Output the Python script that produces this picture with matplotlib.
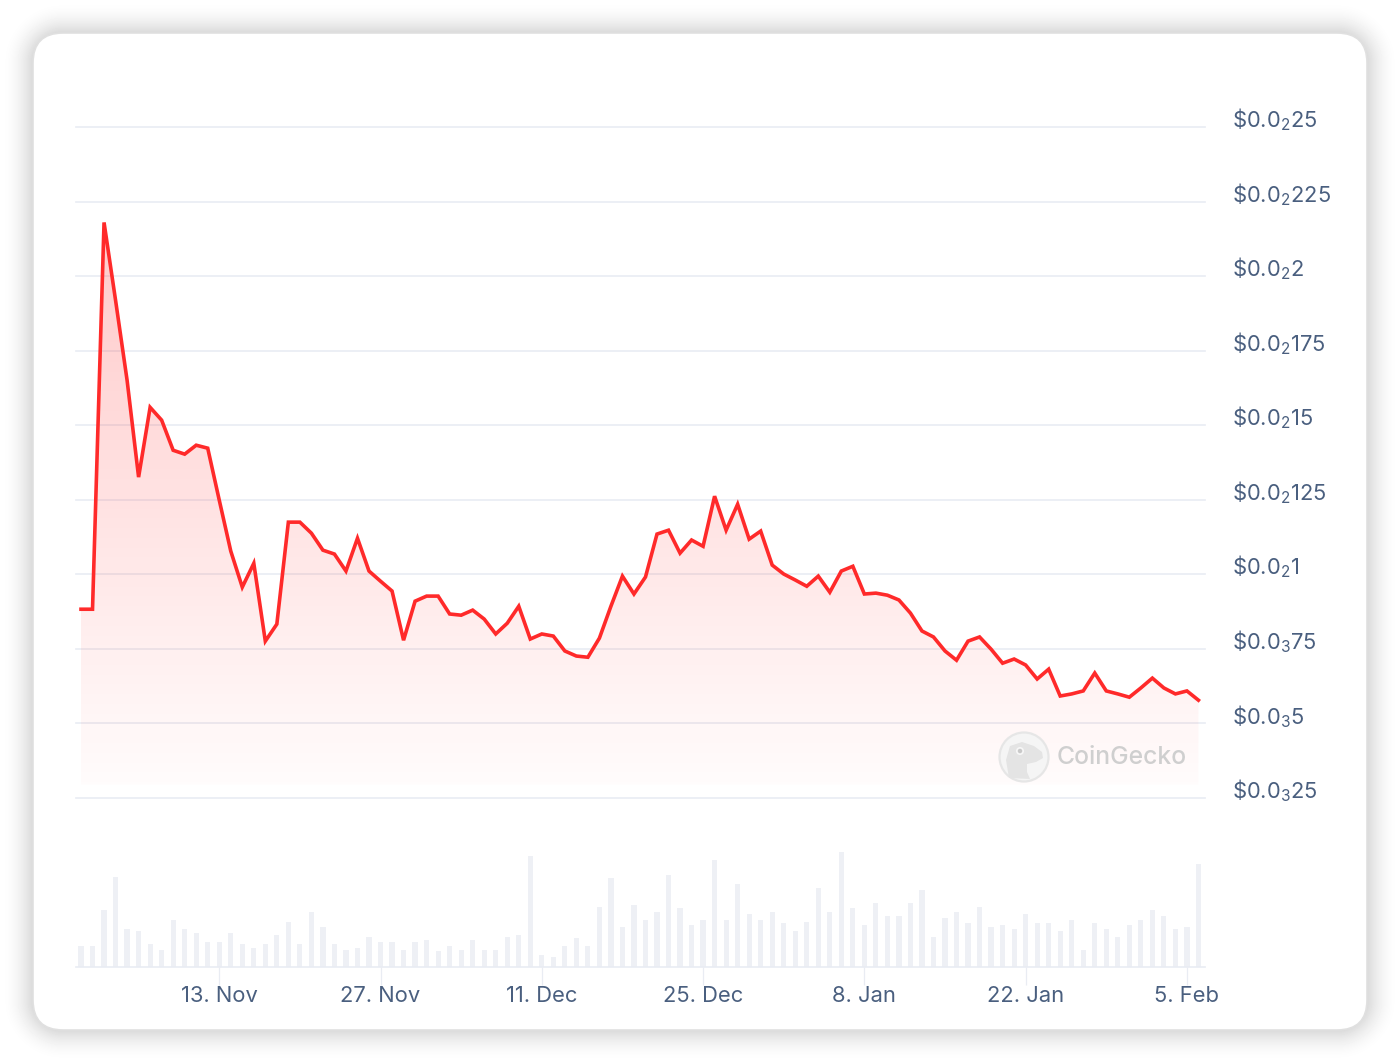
import matplotlib
matplotlib.use("Agg")
import matplotlib.pyplot as plt
import matplotlib.dates as mdates
from matplotlib.patches import FancyBboxPatch, Circle, Ellipse, Polygon
import numpy as np
import pandas as pd

W, H = 1400, 1063

plt.rcParams['font.family'] = ['Inter', 'DejaVu Sans']
plt.rcParams['mathtext.fontset'] = 'custom'
plt.rcParams['mathtext.rm'] = 'Inter'
plt.rcParams['mathtext.default'] = 'rm'

# daily price, in units of 1e-5 USD
prices = [88.3, 88.3, 218.0, 191.9, 165.1, 132.6, 156.0, 151.7, 141.6, 140.3,
          143.3, 142.3, 124.9, 107.8, 95.7, 103.7, 77.6, 83.3, 117.5, 117.5,
          113.8, 108.1, 106.8, 101.1, 112.1, 101.1, 97.7, 94.4, 77.9, 91.0,
          92.7, 92.7, 86.7, 86.3, 88.0, 85.0, 80.0, 83.6, 89.3, 78.3,
          80.0, 79.3, 74.3, 72.6, 72.2, 78.6, 89.3, 99.4, 93.4, 99.1,
          113.5, 114.8, 107.1, 111.5, 109.4, 126.2, 114.8, 123.5, 111.8, 114.5,
          103.1, 100.1, 98.1, 96.0, 99.4, 94.0, 101.1, 102.7, 93.4, 93.7,
          93.0, 91.4, 87.0, 81.0, 79.0, 74.3, 71.2, 77.6, 79.0, 74.9,
          70.2, 71.6, 69.6, 64.9, 68.2, 59.2, 59.9, 60.9, 66.9, 60.9,
          59.9, 58.8, 61.9, 65.2, 61.9, 59.9, 60.9, 57.8]

# daily volume, arbitrary units
volumes = [21.3, 21.3, 56.7, 90.3, 38.3, 36.3, 23.3, 17.3, 47.3, 38.3,
           34.3, 25, 25, 34.3, 23.3, 19.3, 23.3, 32.3, 45.3, 23.3,
           55, 40, 23.3, 17.3, 19.3, 30.3, 25, 25, 17.3, 25,
           27, 15.7, 21.3, 17.3, 27, 17.3, 17.3, 30.3, 32.3, 111.3,
           12, 10, 21.3, 28.7, 21.3, 60.3, 88.7, 40, 62.3, 47.3,
           55, 92.3, 58.7, 42, 47.3, 107.3, 47.3, 83, 53.3, 47.3,
           55, 43.7, 36.3, 45.3, 79.3, 55, 114.7, 58.7, 42, 64.3,
           51.3, 51.3, 64.3, 77.3, 30.3, 49.3, 55, 43.7, 60.3, 40,
           42, 38.3, 53.3, 43.7, 43.7, 36.3, 47.3, 17.3, 43.7, 38.3,
           30.3, 42, 47.3, 56.7, 51.3, 38.3, 40, 103.3]

dates = pd.date_range("2023-11-01", periods=len(prices), freq="D")

ytick_values = [25, 50, 75, 100, 125, 150, 175, 200, 225, 250]
ytick_labels = [r'$\$0.0_{3}25$', r'$\$0.0_{3}5$', r'$\$0.0_{3}75$', r'$\$0.0_{2}1$',
                r'$\$0.0_{2}125$', r'$\$0.0_{2}15$', r'$\$0.0_{2}175$', r'$\$0.0_{2}2$',
                r'$\$0.0_{2}225$', r'$\$0.0_{2}25$']
xtick_dates = pd.to_datetime(["2023-11-13", "2023-11-27", "2023-12-11", "2023-12-25",
                              "2024-01-08", "2024-01-22", "2024-02-05"])
xtick_labels = ["13. Nov", "27. Nov", "11. Dec", "25. Dec", "8. Jan", "22. Jan", "5. Feb"]

TEXT = '#4a5f7f'
GRID = '#e9ecf3'
BAR = '#eef0f5'
RED = '#ff2a2a'


def px_axes(left, top, right, bottom, **kw):
    return fig.add_axes([left / W, 1 - bottom / H, (right - left) / W, (bottom - top) / H], **kw)


fig = plt.figure(figsize=(W / 100, H / 100), dpi=100, facecolor='white')

# card + soft shadow, drawn in pixel coordinates
bg = px_axes(0, 0, W, H, zorder=0)

# shadow from the distance to the rounded card outline
yy, xx = np.mgrid[0:H, 0:W] + 0.5
r = 30
qx = np.abs(xx - 700) - (667 - r)
qy = np.abs(yy - 531.5) - (498.5 - r)
dist = np.hypot(np.maximum(qx, 0), np.maximum(qy, 0)) + np.minimum(np.maximum(qx, qy), 0) - r
shade = 0.15 * np.clip(1 - dist / 33, 0, 1) ** 2
bg.imshow(1 - shade, cmap='gray', vmin=0, vmax=1, extent=(0, W, H, 0), interpolation='nearest')
bg.set_xlim(0, W)
bg.set_ylim(H, 0)
bg.set_aspect('auto')
bg.axis('off')
bg.add_patch(FancyBboxPatch((33, 33), 1334, 997, boxstyle=f"round,pad=0,rounding_size={r}",
                            fc='white', ec='#e0e0e0', lw=1.2))

# x scale shared by both panels: 11.52 px per day, first point at x=81
x0 = mdates.date2num(dates[0])
xlim = (x0 + (76 - 81) / 11.52, x0 + (1205 - 81) / 11.52)
x = mdates.date2num(dates)

# price panel
ax = px_axes(76, 127, 1205, 798, zorder=1)
ax.patch.set_alpha(0)
for s in ax.spines.values():
    s.set_visible(False)
ax.tick_params(left=False, bottom=False, labelleft=False, labelbottom=False)
ax.set_yticks(ytick_values)
ax.grid(axis='y', color=GRID, lw=1.2, zorder=0, clip_on=False)
ax.set_axisbelow(True)

floor = 29.5
area = ax.fill_between(x, prices, floor, facecolor='none', edgecolor='none')
grad = np.zeros((256, 1, 4))
grad[:, 0, 0] = 1.0
grad[:, 0, 1] = 0.12
grad[:, 0, 2] = 0.12
grad[:, 0, 3] = np.linspace(0.24, 0.015, 256)
im = ax.imshow(grad, extent=(x[0], x[-1], floor, max(prices)), aspect='auto', origin='upper',
               zorder=1, interpolation='bilinear')
im.set_clip_path(area.get_paths()[0], transform=ax.transData)
ax.plot(x, prices, color=RED, lw=2.6, solid_joinstyle='miter', zorder=3, clip_on=False)
ax.set_xlim(*xlim)
ax.set_ylim(25, 250)

for v, lab in zip(ytick_values, ytick_labels):
    ax.annotate(lab, xy=(1, v), xycoords=ax.get_yaxis_transform(), xytext=(27.5 * 0.72, -0.4),
                textcoords='offset points', ha='left', va='baseline', fontsize=15.8, color=TEXT,
                annotation_clip=False)

# volume panel
vol = px_axes(76, 840, 1205, 967, zorder=1)
vol.patch.set_alpha(0)
vol.bar(x, volumes, width=0.45, color=BAR, lw=0)
vol.set_xlim(*xlim)
vol.set_ylim(0, 127)
for name, s in vol.spines.items():
    s.set_visible(name == 'bottom')
vol.spines['bottom'].set_color(GRID)
vol.spines['bottom'].set_linewidth(1.2)
vol.set_yticks([])
vol.set_xticks(mdates.date2num(xtick_dates))
vol.set_xticklabels(xtick_labels, fontsize=15.8, color=TEXT)
vol.tick_params(axis='x', length=13, width=0.9, color=GRID, pad=0.8)

# watermark
wm = px_axes(0, 0, W, H, zorder=2)
wm.patch.set_alpha(0)
wm.set_xlim(0, W)
wm.set_ylim(H, 0)
wm.axis('off')
wm.add_patch(Circle((1024, 757), 24.5, fc='#f5f5f5', ec='#e6e6e6', lw=1.6))
wm.add_patch(Polygon([[1009, 778], [1006, 760], [1010, 746], [1022, 742], [1034, 746], [1042, 752],
                      [1043, 758], [1036, 762], [1027, 764], [1027, 772], [1030, 779]],
                     closed=True, fc='#e4e4e4', ec='none'))
wm.add_patch(Ellipse((1020, 751), 8, 8, fc='#f7f7f7', ec='none'))
wm.add_patch(Ellipse((1020, 751), 4.5, 4.5, fc='#c9c9c9', ec='none'))
wm.text(1122, 758, "CoinGecko", ha='center', va='center', fontsize=17.8, color='#cfcfcf', weight='medium')

fig.savefig("out.png", dpi=100)
